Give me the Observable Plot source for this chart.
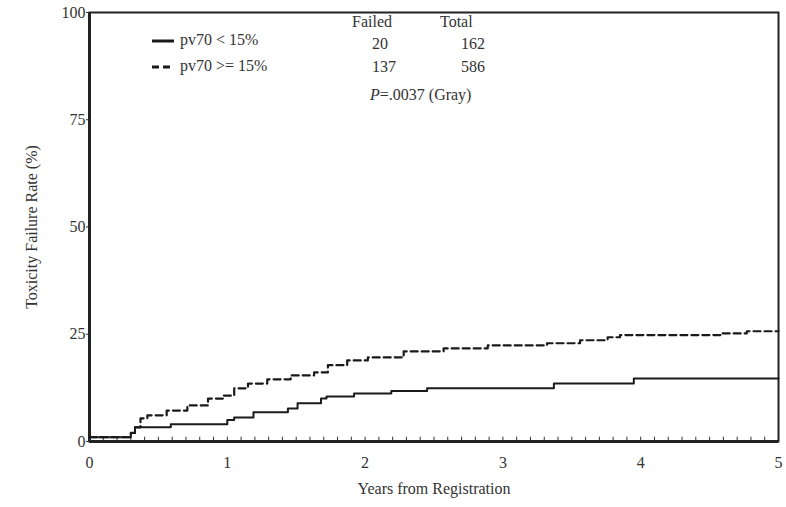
<!DOCTYPE html>
<html>
<head>
<meta charset="utf-8">
<script src="https://cdn.jsdelivr.net/npm/d3@7"></script>
<script src="https://cdn.jsdelivr.net/npm/@observablehq/plot@0.6"></script>
<style>
  html, body { margin: 0; padding: 0; background: #fff; }
  #wrap { position: relative; width: 786px; height: 507px; font-family: "Liberation Serif", "DejaVu Serif", serif; color: #333; }
  .lab { position: absolute; font-family: "Liberation Serif", serif; font-size: 16px; line-height: 16px; white-space: nowrap; color: #333; }
</style>
</head>
<body>
<div id="wrap"></div>
<script>
// Data
const solidYears = [0, 0.30, 0.33, 0.59, 1.00, 1.05, 1.19, 1.44, 1.51, 1.68, 1.72, 1.92, 2.19, 2.45, 3.37, 3.95, 5.0];
const solidRates = [1, 2.0, 3.3, 4.0, 5.0, 5.6, 6.8, 7.7, 8.9, 10.0, 10.5, 11.2, 11.8, 12.4, 13.5, 14.7, 14.7];
const dashYears = [0, 0.30, 0.33, 0.37, 0.42, 0.56, 0.71, 0.86, 0.97, 1.05, 1.15, 1.29, 1.46, 1.63, 1.73, 1.87, 2.02, 2.28, 2.57, 2.89, 3.32, 3.56, 3.76, 3.85, 4.58, 4.77, 5.0];
const dashRates = [1, 2.0, 3.3, 5.4, 6.1, 7.2, 8.4, 10.0, 10.7, 12.4, 13.5, 14.5, 15.4, 16.1, 17.8, 18.9, 19.6, 21.0, 21.7, 22.4, 22.9, 23.6, 24.3, 24.8, 25.2, 25.7, 25.7];
const xTicks = [0, 1, 2, 3, 4, 5];
const yTicks = [0, 25, 50, 75, 100];
const minorXTicks = d3.range(0, 50).map(i => i / 10);
const groups = ["pv70 < 15%", "pv70 >= 15%"];
const failed = [20, 137];
const total = [162, 586];
const pText = ".0037 (Gray)";

const solid = solidYears.map((x, i) => ({x, y: solidRates[i]}));
const dashed = dashYears.map((x, i) => ({x, y: dashRates[i]}));

const chart = Plot.plot({
  width: 786,
  height: 507,
  marginLeft: 89,
  marginRight: 8,
  marginTop: 12,
  marginBottom: 66,
  style: {fontFamily: "'Liberation Serif', serif", fontSize: "16px", color: "#333", background: "#fff"},
  x: {domain: [0, 5]},
  y: {domain: [0, 100]},
  marks: [
    Plot.frame({stroke: "#222", strokeWidth: 2}),
    Plot.ruleY([0], {stroke: "#222", strokeWidth: 3}),
    Plot.ruleX([0], {stroke: "#222", strokeWidth: 3}),
    Plot.ruleX(minorXTicks, {y1: 0, y2: 1, stroke: "#333", strokeWidth: 1}),
    Plot.axisY({ticks: yTicks, tickFormat: "d", tickSize: 3, tickPadding: 1, fontSize: 16, label: "Toxicity Failure Rate (%)", labelAnchor: "center", labelOffset: 64, labelArrow: "none"}),
    Plot.axisX({ticks: xTicks, tickFormat: "d", tickSize: 0, tickPadding: 15, fontSize: 16, label: "Years from Registration", labelAnchor: "center", labelOffset: 52, labelArrow: "none"}),
    Plot.line(solid, {x: "x", y: "y", curve: "step-after", stroke: "#1a1a1a", strokeWidth: 2}),
    Plot.line(dashed, {x: "x", y: "y", curve: "step-after", stroke: "#1a1a1a", strokeWidth: 2.2, strokeDasharray: "7,4"})
  ]
});
document.getElementById("wrap").appendChild(chart);

// Legend and annotation table overlay
const wrap = document.getElementById("wrap");
function addLabel(html, left, top, extra) {
  const d = document.createElement("div");
  d.className = "lab";
  d.innerHTML = html;
  d.style.left = left + "px";
  d.style.top = top + "px";
  if (extra) Object.assign(d.style, extra);
  wrap.appendChild(d);
  return d;
}
const legendSvg = `<svg width="24" height="6" style="vertical-align:middle;margin-right:4px"><line x1="0" y1="3" x2="22" y2="3" stroke="#1a1a1a" stroke-width="3" DASH/></svg>`;
addLabel(legendSvg.replace("DASH", "") + groups[0], 152, 32);
addLabel(legendSvg.replace("DASH", 'stroke-dasharray="7,4" stroke-width="1.5"') + groups[1], 152, 58);

addLabel("Failed", 352, 14);
addLabel("Total", 440, 14);
addLabel(String(failed[0]), 360, 36, {width: "40px", textAlign: "center"});
addLabel(String(total[0]), 445, 36, {width: "40px", textAlign: "right"});
addLabel(String(failed[1]), 364, 59, {width: "40px", textAlign: "center"});
addLabel(String(total[1]), 445, 59, {width: "40px", textAlign: "right"});
addLabel("<i>P</i>=" + pText, 370, 87);
</script>
</body>
</html>
